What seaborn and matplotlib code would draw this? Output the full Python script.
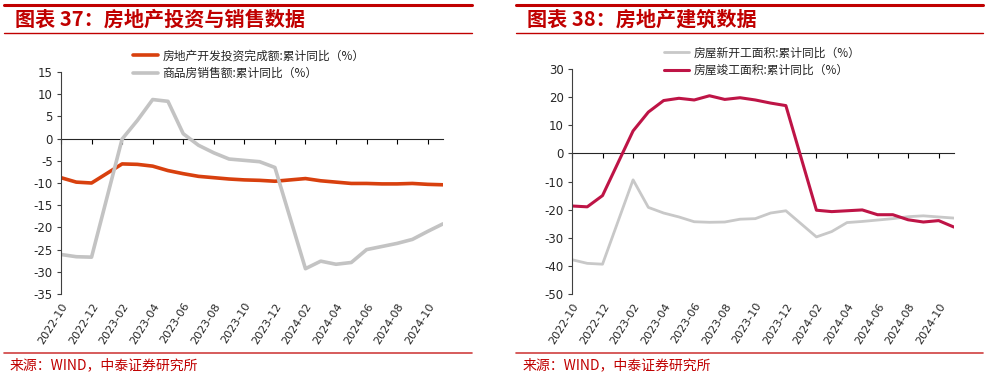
import numpy as np
import pandas as pd
import matplotlib
matplotlib.use("Agg")
import matplotlib.pyplot as plt
import seaborn as sns

# monthly cumulative YoY data (no standalone January print)
months = ["2022-10", "2022-11", "2022-12",
          "2023-02", "2023-03", "2023-04", "2023-05", "2023-06", "2023-07",
          "2023-08", "2023-09", "2023-10", "2023-11", "2023-12",
          "2024-02", "2024-03", "2024-04", "2024-05", "2024-06", "2024-07",
          "2024-08", "2024-09", "2024-10", "2024-11"]

invest = [-8.8, -9.8, -10.0,
          -5.7, -5.8, -6.2, -7.2, -7.9, -8.5,
          -8.8, -9.1, -9.3, -9.4, -9.6,
          -9.0, -9.5, -9.8, -10.1, -10.1, -10.2,
          -10.2, -10.1, -10.3, -10.4]
sales = [-26.1, -26.6, -26.7,
         -0.1, 4.1, 8.8, 8.4, 1.1, -1.5,
         -3.2, -4.6, -4.9, -5.2, -6.5,
         -29.3, -27.6, -28.3, -27.9, -25.0, -24.3,
         -23.6, -22.7, -20.9, -19.2]
new_start = [-37.8, -39.1, -39.4,
             -9.4, -19.2, -21.2, -22.6, -24.3, -24.5,
             -24.4, -23.4, -23.2, -21.2, -20.4,
             -29.7, -27.8, -24.6, -24.2, -23.7, -23.2,
             -22.5, -22.2, -22.6, -23.0]
completed = [-18.7, -19.0, -15.0,
             8.0, 14.7, 18.8, 19.6, 19.0, 20.5,
             19.2, 19.8, 19.0, 17.9, 17.0,
             -20.2, -20.7, -20.4, -20.1, -21.8, -21.8,
             -23.6, -24.4, -23.9, -26.2]

tick_labels = ["2022-10", "2022-12", "2023-02", "2023-04", "2023-06", "2023-08",
               "2023-10", "2023-12", "2024-02", "2024-04", "2024-06", "2024-08",
               "2024-10"]

sns.set_style("white")
plt.rcParams["font.family"] = ["DejaVu Sans", "Noto Sans CJK SC"]
plt.rcParams["axes.unicode_minus"] = False

# month index relative to the first month
per = pd.PeriodIndex(months, freq="M")
xpos = np.array([(p - per[0]).n for p in per])
df = pd.DataFrame({"x": xpos, "invest": invest, "sales": sales,
                   "new_start": new_start, "completed": completed})
tick_pos = [(pd.Period(t, freq="M") - per[0]).n for t in tick_labels]

RED = "#C00000"
cjk = ["Noto Sans CJK SC", "DejaVu Sans"]

fig = plt.figure(figsize=(9.87, 3.80), dpi=100)


def style_axes(ax, ylim, step, zero_frac):
    ax.set_xlim(0, xpos[-1])
    ax.set_ylim(*ylim)
    ax.set_yticks(np.arange(ylim[0], ylim[1] + 0.1, step))
    ax.set_xticks(tick_pos)
    ax.set_xticklabels(tick_labels, rotation=58, ha="right",
                       rotation_mode="anchor", fontsize=8)
    ax.tick_params(axis="x", length=0, pad=5)
    ax.tick_params(axis="y", length=3, width=0.8, color="#404040",
                   labelsize=8.5, direction="out", left=True, pad=3)
    for s in ["top", "right", "bottom"]:
        ax.spines[s].set_visible(False)
    ax.spines["left"].set_color("#404040")
    ax.spines["left"].set_linewidth(0.8)
    ax.set_xlabel("")
    ax.set_ylabel("")
    # x axis crossing at zero, with ticks pointing up
    sec = ax.secondary_xaxis(zero_frac)
    sec.set_xticks(tick_pos)
    sec.set_xticklabels([])
    sec.tick_params(direction="in", length=3.5, width=0.8, color="black")
    sec.spines["bottom"].set_color("black")
    sec.spines["bottom"].set_linewidth(1.0)


# ---- left chart
ax1 = fig.add_axes([0.0618, 0.2263, 0.387, 0.5842])
sns.lineplot(data=df, x="x", y="invest", ax=ax1, color="#D8400E", linewidth=2.6,
             label="房地产开发投资完成额:累计同比（%）")
sns.lineplot(data=df, x="x", y="sales", ax=ax1, color="#C3C3C3", linewidth=2.6,
             label="商品房销售额:累计同比（%）")
style_axes(ax1, (-35, 15), 5, 0.7)
ax1.legend(loc="upper left", bbox_to_anchor=(0.129, 0.885),
           bbox_transform=fig.transFigure, frameon=False, prop={"family": cjk, "size": 8.5},
           handlelength=2.1, handletextpad=0.4, labelspacing=0.35, borderpad=0)

# ---- right chart
ax2 = fig.add_axes([0.5795, 0.2263, 0.387, 0.592])
sns.lineplot(data=df, x="x", y="new_start", ax=ax2, color="#C8C8C8", linewidth=2.0,
             label="房屋新开工面积:累计同比（%）")
sns.lineplot(data=df, x="x", y="completed", ax=ax2, color="#BE1446", linewidth=2.2,
             label="房屋竣工面积:累计同比（%）")
style_axes(ax2, (-50, 30), 10, 0.625)
ax2.legend(loc="upper left", bbox_to_anchor=(0.667, 0.893),
           bbox_transform=fig.transFigure, frameon=False, prop={"family": cjk, "size": 8.5},
           handlelength=2.1, handletextpad=0.4, labelspacing=0.35, borderpad=0)

# ---- titles, rules and source notes
for x0, x1, title in [(0.004, 0.478, "图表 37：房地产投资与销售数据"),
                      (0.523, 0.996, "图表 38：房地产建筑数据")]:
    fig.add_artist(plt.Line2D([x0, x1], [0.987, 0.987], color=RED, linewidth=2.2))
    fig.add_artist(plt.Line2D([x0, x1], [0.913, 0.913], color=RED, linewidth=1.0))
    fig.add_artist(plt.Line2D([x0, x1], [0.071, 0.071], color="#D04040", linewidth=1.2))
    fig.text(x0 + 0.011, 0.950, title, color=RED, fontsize=14.5, fontweight="bold",
             fontstyle="italic", family=cjk, va="center", ha="left")
    fig.text(x0 + 0.006, 0.038, "来源：WIND，中泰证券研究所", color=RED, fontsize=10,
             family=cjk, va="center", ha="left")

plt.savefig("out.png", dpi=100)
plt.close()
